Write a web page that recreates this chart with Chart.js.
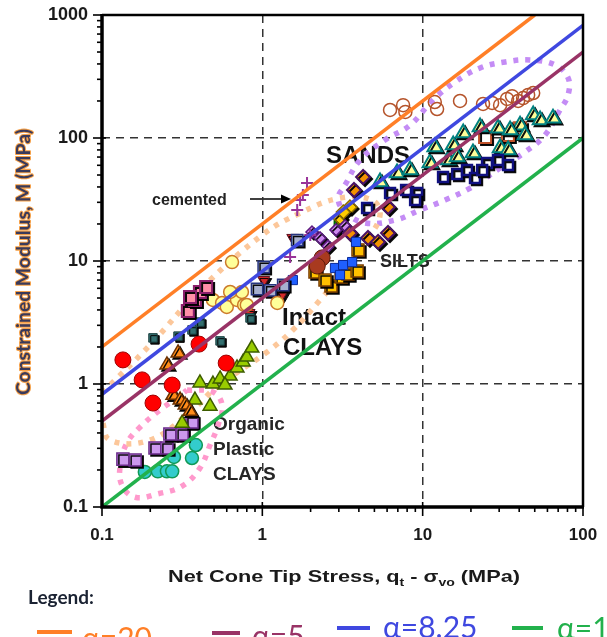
<!DOCTYPE html>
<html><head><meta charset="utf-8">
<script src="https://cdn.jsdelivr.net/npm/chart.js@4.4.1/dist/chart.umd.min.js"></script>
<style>html,body{margin:0;padding:0;background:#fff;overflow:hidden}canvas{display:block}</style>
</head><body>
<canvas id="c" width="607" height="637"></canvas>
<script>
// ---------- tick labels ----------
const xTickLabels = ['0.1', '1', '10', '100'];
const yTickLabels = ['0.1', '1', '10', '100', '1000'];

// ---------- reference lines M = alpha * (qt - svo) ----------
const alphaValues = [20, 5, 8.25, 1];
const alphaNames = ['α=20', 'α=5', 'α=8.25', 'α=1'];
const qRange = [0.1, 100];
const mMax = 1000;

// ---------- envelopes (qt - svo [MPa], M [MPa]) ----------
const intactClayEnvQ = [0.1, 0.199, 0.408, 1.0, 1.72, 3.05, 4.83, 5.42, 4.5, 3.28, 2.29, 1.55, 1.07, 0.52, 0.354, 0.199, 0.112, 0.1];
const intactClayEnvM = [0.845, 2.07, 5.8, 16.3, 24.5, 32.5, 31.3, 23.7, 14.8, 8.45, 4.82, 2.75, 1.82, 0.946, 0.59, 0.35, 0.35, 0.51];
const organicClayEnvQ = [0.339, 0.492, 0.561, 0.53, 0.472, 0.408, 0.316, 0.224, 0.161, 0.133, 0.130, 0.143, 0.173, 0.230, 0.294, 0.339];
const organicClayEnvM = [0.893, 0.861, 0.675, 0.464, 0.319, 0.207, 0.148, 0.128, 0.120, 0.151, 0.219, 0.331, 0.447, 0.615, 0.769, 0.893];
const sandEnvQ = [3.28, 4.07, 5.82, 8.34, 11.6, 15.9, 22.8, 32.7, 46.8, 67, 80.7, 80.7, 71.9, 58, 43.5, 30.4, 19.8, 13.8, 9.64, 6.73, 4.37, 3.28, 2.97, 3.28];
const sandEnvM = [41.5, 66.2, 96.4, 127, 204, 285, 371, 415, 431, 392, 308, 224, 169, 106, 76.9, 57, 39.2, 31.3, 26.0, 21.5, 20.4, 25, 32.5, 41.5];

// ---------- measured points ----------
const redCirclesQ = [0.135, 0.178, 0.208, 0.274, 0.403, 0.595];
const redCirclesM = [1.57, 1.08, 0.70, 0.98, 2.11, 1.48];
const orangeTriQ = [0.298, 0.254, 0.277, 0.307, 0.330, 0.354];
const orangeTriM = [1.79, 1.43, 0.81, 0.74, 0.675, 0.60];
const limeTriQ = [0.408, 0.492, 0.545, 0.63, 0.695, 0.76, 0.80, 0.86, 0.472, 0.38, 0.316, 0.585];
const limeTriM = [1.02, 1.0, 1.10, 1.16, 1.35, 1.51, 1.66, 1.96, 0.66, 0.74, 0.48, 0.98];
const lilacSqQ = [0.135, 0.161, 0.214, 0.254, 0.265, 0.316, 0.364];
const lilacSqM = [0.245, 0.241, 0.302, 0.302, 0.392, 0.392, 0.49];
const cyanCirQ = [0.185, 0.223, 0.254, 0.274, 0.281, 0.364, 0.385];
const cyanCirM = [0.193, 0.195, 0.195, 0.195, 0.255, 0.25, 0.319];
const pinkSqQ = [0.343, 0.38, 0.408, 0.446, 0.354];
const pinkSqM = [3.92, 4.82, 5.6, 6.15, 5.1];
const yellowCirQ = [0.647, 0.492, 0.561, 0.60, 0.695, 0.746, 0.77, 0.63, 1.24, 0.80];
const yellowCirM = [9.8, 4.82, 4.56, 4.23, 4.82, 5.6, 4.39, 5.6, 4.56, 4.39];
const tealMarkQ = [0.208, 0.298, 0.364, 0.408, 0.545, 0.838];
const tealMarkM = [2.37, 2.45, 2.75, 3.19, 2.24, 3.44];
const greySqQ = [0.927, 1.12, 1.35, 1.02, 1.65];
const greySqM = [5.92, 5.78, 6.38, 8.94, 14.8];
const redMarkQ = [0.826, 1.02, 1.55, 1.33];
const redMarkM = [3.78, 7.0, 15.4, 5.4];
const cementedQ = [1.65, 1.79, 1.90, 1.72, 1.49, 1.99];
const cementedM = [26, 34.4, 43, 31.3, 10.8, 16.3];
const blueSqQ = [1.55, 2.84, 3.19, 3.63, 3.05, 3.84];
const blueSqM = [7.0, 8.77, 9.27, 9.8, 7.7, 14.3];
const darkRedCirQ = [2.36, 2.2];
const darkRedCirM = [10.6, 9.1];
const goldSqQ = [2.13, 2.68, 3.10, 3.42, 3.90, 3.95, 2.46];
const goldSqM = [8.14, 6.26, 7.41, 7.84, 8.29, 12.3, 7.0];
const orangeDiaQ = [4.25, 3.73, 6.08, 4.56, 5.27, 6.08, 3.52];
const orangeDiaM = [48.2, 37.8, 27.5, 15.4, 14.3, 16.9, 16.9];
const violetDiaQ = [2.04, 2.29, 2.57, 2.88, 3.28];
const violetDiaM = [17.2, 15.4, 13.2, 17.9, 19.3];
const goldDiaQ = [3.05, 3.52, 3.2];
const goldDiaM = [22.4, 27.5, 25];
const greenSqQ = [3.05];
const greenSqM = [19.6];
const navySqQ = [4.50, 6.26, 7.88, 9.23, 8.97, 13.4, 16.4, 18.9, 21.2, 25.2, 29.5, 34.1, 23.5];
const navySqM = [27, 35.7, 37.8, 35.7, 31.3, 48.2, 51, 55, 47.3, 62.7, 66.2, 60.3, 55];
const tealTriQ = [5.42, 6.92, 8.34, 11.1, 11.9, 14.4, 15.5, 16.4, 17.9, 20.6, 22.8, 29.5, 30.4, 34.1, 40.5, 48.9, 54, 65, 35.1, 43.5];
const tealTriM = [43.9, 51.9, 55, 62.7, 84.5, 66.2, 87.7, 70.1, 110, 75.5, 123, 120, 82.9, 79.8, 127, 154, 140, 145, 116, 106];
const brownCirQ = [6.26, 7.55, 7.8, 11.9, 12.3, 17.1, 23.8, 27.1, 30.4, 33.6, 36.1, 39.4, 42.3, 45.5, 48.9];
const brownCirM = [169, 185, 163, 196, 172, 200, 189, 193, 185, 208, 219, 200, 211, 224, 232];
const brownSqQ = [24.5, 37, 40.5, 34];
const brownSqM = [102, 112, 120, 106];

// ---------- styles ----------
const alphaColors = {'α=20': '#ff7f27', 'α=5': '#993366', 'α=8.25': '#3f48e0', 'α=1': '#22b14c'};
const FONT = '"Liberation Sans", Arial, sans-serif';

function pts(q, m) { return q.map((v, i) => ({x: v, y: m[i]})); }
function marker(q, m, style, r, fill, edge, bw, shadow, rot) {
  return {data: pts(q, m), pointStyle: style, pointRadius: r, pointHoverRadius: r,
    pointBackgroundColor: fill, pointBorderColor: edge, pointBorderWidth: bw,
    pointRotation: rot || 0, showLine: false, order: 10, shadow: !!shadow};
}
function envelope(q, m, color) {
  return {data: pts(q, m), showLine: true, pointRadius: 0, borderColor: color, borderWidth: 5.5,
    borderDash: [5, 7], tension: 0.4, fill: false, order: 100};
}
function alphaLine(a, name) {
  const q2 = Math.min(qRange[1], mMax / a);
  return {data: [{x: qRange[0], y: a * qRange[0]}, {x: q2, y: a * q2}], showLine: true, pointRadius: 0,
    borderColor: alphaColors[name], borderWidth: 3.5, tension: 0, order: 0};
}

const datasets = [
  ...alphaValues.map((a, i) => alphaLine(a, alphaNames[i])),
  envelope(intactClayEnvQ, intactClayEnvM, '#fcc79a'),
  envelope(organicClayEnvQ, organicClayEnvM, '#ff99cc'),
  envelope(sandEnvQ, sandEnvM, '#c48cf5'),
  marker(redCirclesQ, redCirclesM, 'circle', 8, '#ff0000', '#a00000', 1),
  marker(orangeTriQ, orangeTriM, 'triangle', 8, '#ff8c1a', '#6b3000', 1.5, true),
  marker(limeTriQ, limeTriM, 'triangle', 8, '#99cc00', '#3d5c00', 1.5),
  marker(lilacSqQ, lilacSqM, 'rect', 8.5, '#cc99ee', '#6a2a8a', 1.5, true),
  marker(cyanCirQ, cyanCirM, 'circle', 6.5, '#33cccc', '#119955', 1.5),
  marker(pinkSqQ, pinkSqM, 'rect', 8.5, '#ff8fa8', '#8b1f6b', 2, true),
  marker(yellowCirQ, yellowCirM, 'circle', 6.5, '#ffff99', '#cc7a29', 1.5),
  marker(tealMarkQ, tealMarkM, 'rect', 6, '#336f6f', '#1a3f3f', 1, true),
  marker(greySqQ, greySqM, 'rect', 8, '#a7b0cf', '#27357f', 1.5, true),
  marker(redMarkQ, redMarkM, 'triangle', 7, '#d42a2a', '#5a1020', 1, true, 180),
  marker(cementedQ, cementedM, 'cross', 6, '#993399', '#993399', 2),
  marker(blueSqQ, blueSqM, 'rect', 6.5, '#1f5fff', '#0a2a99', 1),
  marker(darkRedCirQ, darkRedCirM, 'circle', 8, '#a83a1f', '#5c1a0a', 1),
  marker(goldSqQ, goldSqM, 'rect', 8.5, '#ffc000', '#7a3d00', 1.5, true),
  marker(orangeDiaQ, orangeDiaM, 'rectRot', 7, '#f39200', '#4a1366', 2, true),
  marker(violetDiaQ, violetDiaM, 'rectRot', 6, '#cc88ee', '#5b1a7f', 1.5, true),
  marker(goldDiaQ, goldDiaM, 'rectRot', 7, '#ffcc00', '#8a6a00', 1.5, true),
  marker(greenSqQ, greenSqM, 'rect', 8, '#00ee00', '#006600', 1.5, true),
  marker(navySqQ, navySqM, 'rect', 7, '#ffffff', '#101080', 2.5, true),
  marker(tealTriQ, tealTriM, 'triangle', 8.5, '#ffff99', '#008080', 2, true),
  marker(brownCirQ, brownCirM, 'circle', 6.5, 'rgba(0,0,0,0)', '#b5532a', 1.5),
  marker(brownSqQ, brownSqM, 'rect', 8.5, '#ffffff', '#c0522a', 2, true)
];

function labelFor(list, v) {
  const s = list.find(t => Math.abs(Number(t) - v) < 1e-9 * Math.max(1, v));
  return s === undefined ? '' : s;
}
function isDecade(v) { const l = Math.log10(v); return Math.abs(l - Math.round(l)) < 1e-7; }
function isIntMantissa(v) {
  const m = v / Math.pow(10, Math.floor(Math.log10(v) + 1e-9));
  return Math.abs(m - Math.round(m)) < 1e-6;
}
function noOverflow(s) { s.paddingTop = 0; s.paddingBottom = 0; s.paddingLeft = 0; s.paddingRight = 0; }

const shadowPlugin = {
  id: 'shadow',
  beforeDatasetDraw(chart, args) {
    const ds = chart.data.datasets[args.index];
    if (ds.shadow) {
      const c = chart.ctx; c.save();
      c.shadowColor = 'rgba(0,0,0,0.95)'; c.shadowOffsetX = 2; c.shadowOffsetY = 2; c.shadowBlur = 0;
    }
  },
  afterDatasetDraw(chart, args) {
    if (chart.data.datasets[args.index].shadow) chart.ctx.restore();
  }
};

const decorPlugin = {
  id: 'decor',
  beforeDraw(chart) {
    const c = chart.ctx;
    c.save();
    c.fillStyle = '#fff'; c.fillRect(0, 0, chart.width, chart.height);
    c.fillStyle = '#111'; c.textBaseline = 'alphabetic'; c.textAlign = 'left';
    c.font = 'bold 24px ' + FONT;
    c.fillText('SANDS', 326, 163);
    c.fillText('Intact', 282, 325);
    c.fillText('CLAYS', 283, 355);
    c.font = 'bold 18px ' + FONT;
    c.fillStyle = '#222';
    c.fillText('SILTS', 380, 267);
    c.font = 'bold 19px ' + FONT;
    c.fillStyle = '#262626';
    c.fillText('Organic', 213, 430);
    c.fillText('Plastic', 213, 455);
    c.fillText('CLAYS', 213, 480);
    c.font = 'bold 16px ' + FONT;
    c.fillStyle = '#222';
    c.fillText('cemented', 152, 205);
    // arrow
    c.strokeStyle = '#000'; c.lineWidth = 1.5;
    c.beginPath(); c.moveTo(250, 199); c.lineTo(284, 199); c.stroke();
    c.fillStyle = '#000';
    c.beginPath(); c.moveTo(291, 199); c.lineTo(281, 194.5); c.lineTo(281, 203.5); c.closePath(); c.fill();
    c.restore();
  },
  afterDatasetsDraw(chart) {
    const c = chart.ctx, a = chart.chartArea, xs = chart.scales.x, ys = chart.scales.y;
    c.save();
    c.strokeStyle = '#000';
    c.lineWidth = 1.6;
    ys.ticks.forEach(t => {
      if (!isIntMantissa(t.value)) return;
      const p = ys.getPixelForValue(t.value), maj = isDecade(t.value);
      c.beginPath(); c.moveTo(a.left - (maj ? 9 : 5), p); c.lineTo(a.left + (maj ? 4 : 0), p); c.stroke();
    });
    xs.ticks.forEach(t => {
      if (!isIntMantissa(t.value)) return;
      const p = xs.getPixelForValue(t.value), maj = isDecade(t.value);
      c.beginPath(); c.moveTo(p, a.bottom - (maj ? 5 : 0)); c.lineTo(p, a.bottom + (maj ? 9 : 5)); c.stroke();
    });
    c.lineWidth = 2.5;
    c.beginPath(); c.moveTo(a.left, a.top); c.lineTo(a.right, a.top); c.lineTo(a.right, a.bottom); c.stroke();
    c.lineWidth = 3.5;
    c.beginPath(); c.moveTo(a.left, a.top - 1); c.lineTo(a.left, a.bottom); c.lineTo(a.right + 1, a.bottom); c.stroke();
    c.restore();
  },
  afterDraw(chart) {
    const c = chart.ctx;
    c.save();
    // x axis title with subscripts
    const big = 'bold 17px ' + FONT, small = 'bold 11px ' + FONT;
    const parts = [['Net Cone Tip Stress, q', big, 0], ['t', small, 4], [' - ', big, 0], ['σ', big, 0], ['vo', small, 4], [' (MPa)', big, 0]];
    let total = 0;
    parts.forEach(p => { c.font = p[1]; p.push(c.measureText(p[0]).width); total += p[3]; });
    const target = 352;
    c.translate(344 - target / 2, 582); c.scale(target / total, 1);
    c.fillStyle = '#1a1a1a'; c.textBaseline = 'alphabetic'; c.textAlign = 'left';
    let x = 0;
    parts.forEach(p => { c.font = p[1]; c.fillText(p[0], x, p[2]); x += p[3]; });
    c.restore();

    // y axis title
    c.save();
    const yt = 'Constrained Modulus, M (MPa)';
    c.font = 'bold 18px Lato, "Open Sans", sans-serif';
    const w = c.measureText(yt).width;
    c.translate(24, 262); c.rotate(-Math.PI / 2); c.scale(266 / w, 1);
    c.textAlign = 'center'; c.textBaseline = 'middle';
    c.lineJoin = 'round';
    c.strokeStyle = '#f5a14a'; c.lineWidth = 2; c.strokeText(yt, 0, 0);
    c.fillStyle = '#3a3a5a'; c.fillText(yt, 0, 0);
    c.restore();

    // legend
    c.save();
    c.font = 'bold 19px Lato, "Open Sans", sans-serif';
    c.textAlign = 'left'; c.textBaseline = 'alphabetic';
    c.fillStyle = '#1b2333'; c.fillText('Legend:', 28, 604);
    const layout = [[37, 72, 632, 82, 649], [212, 240, 633, 252, 647], [337, 370, 628, 383, 638], [512, 543, 628, 557, 639]];
    c.font = '30px Lato, "Open Sans", sans-serif';
    alphaNames.forEach((n, i) => {
      const L = layout[i], col = alphaColors[n];
      c.strokeStyle = col; c.lineWidth = 4;
      c.beginPath(); c.moveTo(L[0], L[2]); c.lineTo(L[1], L[2]); c.stroke();
      c.fillStyle = col; c.fillText(n, L[3], L[4]);
    });
    c.restore();
  }
};

new Chart(document.getElementById('c'), {
  type: 'scatter',
  data: {datasets},
  plugins: [shadowPlugin, decorPlugin],
  options: {
    responsive: false, animation: false, devicePixelRatio: 1,
    layout: {padding: {top: 15, right: 24, left: 0, bottom: 0}},
    plugins: {legend: {display: false}, tooltip: {enabled: false}},
    scales: {
      x: {
        type: 'logarithmic', min: 0.1, max: 100, position: 'bottom',
        afterFit(s) { s.height = 130; noOverflow(s); },
        grid: {drawTicks: false, lineWidth: 1.5,
          color: ctx => (ctx.tick && isDecade(ctx.tick.value) && ctx.tick.value > 0.1 + 1e-9 && ctx.tick.value < 100 - 1e-9) ? '#333' : 'rgba(0,0,0,0)'},
        border: {display: false, dash: [8, 6]},
        ticks: {autoSkip: false, maxRotation: 0, padding: 18, color: '#1a1a1a',
          font: {family: FONT, weight: 'bold', size: 17},
          callback: v => labelFor(xTickLabels, v)}
      },
      y: {
        type: 'logarithmic', min: 0.1, max: 1000, position: 'left',
        afterFit(s) { s.width = 102; noOverflow(s); },
        grid: {drawTicks: false, lineWidth: 1.5,
          color: ctx => (ctx.tick && isDecade(ctx.tick.value) && ctx.tick.value > 0.1 + 1e-9 && ctx.tick.value < 1000 - 1e-6) ? '#333' : 'rgba(0,0,0,0)'},
        border: {display: false, dash: [8, 6]},
        ticks: {autoSkip: false, padding: 14, color: '#1a1a1a',
          font: {family: FONT, weight: 'bold', size: 18},
          callback: v => labelFor(yTickLabels, v)}
      }
    }
  }
});
</script>
</body></html>
